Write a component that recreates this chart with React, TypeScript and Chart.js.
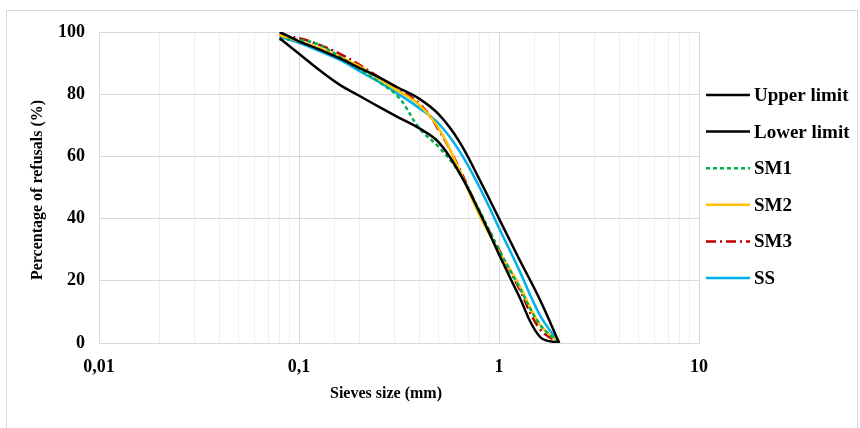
import React, { useEffect, useRef } from "react";
import { Chart, registerables } from "chart.js";

Chart.register(...registerables);

const SIEVES = [0.08, 0.1, 0.125, 0.16, 0.2, 0.25, 0.315, 0.4, 0.5, 0.63, 0.8, 1, 1.25, 1.6, 2];
const UPPER = [100, 97, 94.5, 91.5, 88.5, 85.5, 82, 78.5, 73.5, 65, 52.5, 40, 27.5, 14, 0];
const LOWER = [98, 93, 88, 83, 79.5, 76, 72.5, 69, 64.5, 55, 42, 28.5, 15.5, 2, 0];
const SM1 = [97.5, 97.5, 96, 92, 88, 84, 79, 69, 63, 55, 42.5, 30, 18.5, 6, 0];
const SM2 = [99, 97, 95, 92, 89, 85, 81, 76.5, 69, 56, 41, 29.5, 19, 6, 0];
const SM3 = [99, 98, 96, 93, 89.5, 85.5, 81.5, 77, 68.5, 56.5, 42, 30, 18, 4.5, 0];
const SS = [98.5, 96.5, 94, 91, 87.5, 84, 80, 75.5, 70.5, 62, 50, 37, 24, 9, 0];

const X_MIN = 0.01;
const X_MAX = 10;
const Y_TICKS = [0, 20, 40, 60, 80, 100];

const FONT = "'Liberation Serif', 'Times New Roman', serif";

const SERIES = [
  { label: "Upper limit", data: UPPER, color: "#000000", dash: [] as number[], width: 2.5 },
  { label: "Lower limit", data: LOWER, color: "#000000", dash: [] as number[], width: 2.5 },
  { label: "SM1", data: SM1, color: "#00b050", dash: [4, 3], width: 2.5 },
  { label: "SM2", data: SM2, color: "#ffc000", dash: [] as number[], width: 2.5 },
  { label: "SM3", data: SM3, color: "#c00000", dash: [10, 4, 2, 4], width: 2.5 },
  { label: "SS", data: SS, color: "#00b0f0", dash: [] as number[], width: 2.5 },
];

const decorPlugin = {
  id: "decor",
  beforeDraw(chart: any) {
    const ctx = chart.ctx;
    ctx.save();
    ctx.fillStyle = "#ffffff";
    ctx.fillRect(0, 0, chart.width, chart.height);
    ctx.strokeStyle = "#d9d9d9";
    ctx.lineWidth = 1;
    ctx.strokeRect(6.5, 10.5, 851, 440);
    ctx.restore();
  },
  afterDraw(chart: any) {
    const ctx = chart.ctx;
    ctx.save();
    ctx.fillStyle = "#000";
    ctx.font = `bold 16px ${FONT}`;
    ctx.textAlign = "center";
    ctx.textBaseline = "middle";
    ctx.fillText("Sieves size (mm)", 386, 394);
    ctx.save();
    ctx.translate(38, 190);
    ctx.rotate(-Math.PI / 2);
    ctx.fillText("Percentage of refusals (%)", 0, 0);
    ctx.restore();

    ctx.font = `bold 19px ${FONT}`;
    ctx.textAlign = "left";
    SERIES.forEach((s, i) => {
      const y = 95 + i * 36.6;
      ctx.beginPath();
      ctx.strokeStyle = s.color;
      ctx.lineWidth = s.width;
      ctx.setLineDash(s.dash);
      ctx.moveTo(706, y);
      ctx.lineTo(750, y);
      ctx.stroke();
      ctx.setLineDash([]);
      ctx.fillText(s.label, 754, y + 1);
    });
    ctx.restore();
  },
};

function fmt(v: number) {
  return String(v).replace(".", ",");
}

export default function App() {
  const ref = useRef<HTMLCanvasElement | null>(null);
  useEffect(() => {
    document.body.style.margin = "0";
    const canvas = ref.current!;
    const chart = new Chart(canvas, {
      type: "line",
      data: {
        datasets: SERIES.map((s) => ({
          label: s.label,
          data: SIEVES.map((x, i) => ({ x, y: s.data[i] })),
          borderColor: s.color,
          backgroundColor: s.color,
          borderWidth: s.width,
          borderDash: s.dash,
          pointRadius: 0,
          tension: 0.4,
          fill: false,
        })),
      },
      options: {
        animation: false,
        responsive: false,
        maintainAspectRatio: false,
        layout: { padding: { left: 0, top: 32, right: 161, bottom: 0 } },
        plugins: { legend: { display: false }, tooltip: { enabled: false } },
        scales: {
          x: {
            type: "logarithmic",
            min: X_MIN,
            max: X_MAX,
            afterFit(scale: any) {
              scale.height = 85;
            },
            border: { color: "#d9d9d9", width: 1 },
            grid: {
              drawTicks: false,
              color: (c: any) => {
                const v = c.tick ? c.tick.value : 0;
                const l = Math.log10(v);
                return Math.abs(l - Math.round(l)) < 1e-6 ? "#d9d9d9" : "#efefef";
              },
            },
            ticks: {
              autoSkip: false,
              maxRotation: 0,
              padding: 14,
              color: "#000",
              font: { family: FONT, size: 18, weight: "bold" },
              callback: (v: any) => {
                const l = Math.log10(Number(v));
                return Math.abs(l - Math.round(l)) < 1e-6 ? fmt(Number(v)) : "";
              },
            },
          },
          y: {
            type: "linear",
            min: 0,
            max: 100,
            afterFit(scale: any) {
              scale.width = 99;
            },
            afterBuildTicks(scale: any) {
              scale.ticks = Y_TICKS.map((v) => ({ value: v }));
            },
            border: { color: "#d9d9d9", width: 1 },
            grid: { drawTicks: false, color: "#d9d9d9" },
            ticks: {
              padding: 14,
              color: "#000",
              font: { family: FONT, size: 18, weight: "bold" },
            },
          },
        },
      },
      plugins: [decorPlugin],
    } as any);
    return () => chart.destroy();
  }, []);
  return (
    <div style={{ width: 860, height: 428 }}>
      <canvas ref={ref} width={860} height={428} style={{ width: 860, height: 428, display: "block" }} />
    </div>
  );
}
